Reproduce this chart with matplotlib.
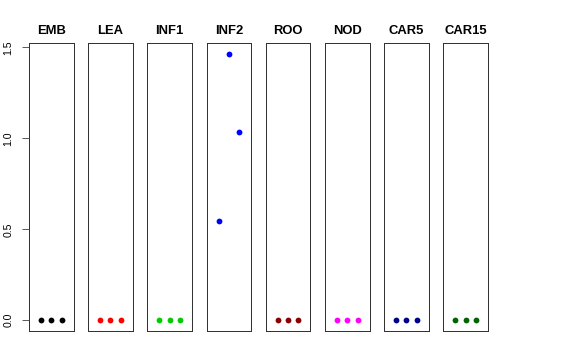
import matplotlib
matplotlib.use("Agg")
import matplotlib.pyplot as plt

panels = ["EMB", "LEA", "INF1", "INF2", "ROO", "NOD", "CAR5", "CAR15"]
colors = ["black", "#FF0000", "#00CD00", "#0000FF", "#8B0000", "#FF00FF", "#00008B", "#006400"]
x_pos = [1, 2, 3]
EMB = [0.0, 0.0, 0.0]
LEA = [0.0, 0.0, 0.0]
INF1 = [0.0, 0.0, 0.0]
INF2 = [0.544, 1.465, 1.035]
ROO = [0.0, 0.0, 0.0]
NOD = [0.0, 0.0, 0.0]
CAR5 = [0.0, 0.0, 0.0]
CAR15 = [0.0, 0.0, 0.0]
values = [EMB, LEA, INF1, INF2, ROO, NOD, CAR5, CAR15]
yticks = [0.0, 0.5, 1.0, 1.5]
ytick_labels = ["0.0", "0.5", "1.0", "1.5"]

plt.rcParams['font.family'] = ['Liberation Sans', 'DejaVu Sans']
W, H = 576, 360
fig = plt.figure(figsize=(W / 72, H / 72), dpi=72)

left0 = 29.0
step = 59.2
width = 44.5
top = 43.3
bottom = 331.0

for i, (name, col, vals) in enumerate(zip(panels, colors, values)):
    l = left0 + i * step
    ax = fig.add_axes([l / W, 1 - bottom / H, width / W, (bottom - top) / H])
    ax.plot(x_pos, vals, 'o', color=col, markersize=5.8, markeredgewidth=0)
    ax.set_xlim(-0.16, 4.16)
    ax.set_ylim(-0.059, 1.522)
    ax.set_xticks([])
    for s in ax.spines.values():
        s.set_color('#333333')
        s.set_linewidth(1.0)
    ax.set_title(name, fontsize=13, fontweight='bold', pad=9.5)
    if i == 0:
        ax.set_yticks(yticks)
        ax.set_yticklabels(ytick_labels, rotation=90, va='center', fontsize=10.5)
        ax.tick_params(axis='y', length=7, width=0.8, pad=8.5, color='#333333')
    else:
        ax.set_yticks([])

fig.savefig("out.png", dpi=72)
